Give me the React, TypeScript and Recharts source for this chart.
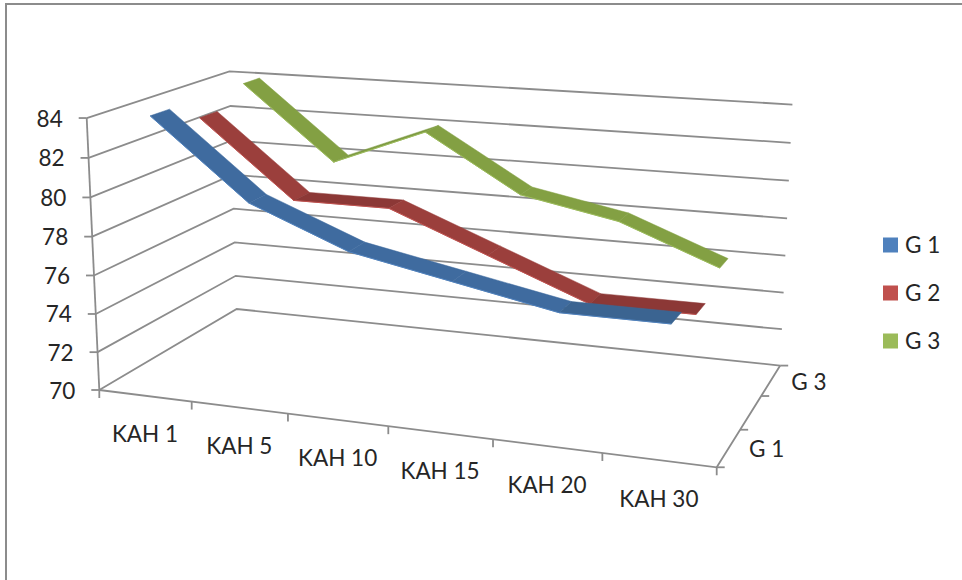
import { Polygon, Scatter, ScatterChart, XAxis, YAxis } from 'recharts';

const categories = ['KAH 1', 'KAH 5', 'KAH 10', 'KAH 15', 'KAH 20', 'KAH 30'];
const seriesNames = ['G 1', 'G 2', 'G 3'];
const depthLabels = ['G 1', 'G 3'];
const valueTicks = [70, 72, 74, 76, 78, 80, 82, 84];

const g1 = [84, 80, 78, 77, 76, 76];
const g2 = [83, 79, 79, 77, 75, 75];
const g3 = [84, 80, 82, 79, 78, 76];

const WIDTH = 962;
const HEIGHT = 580;
const FONT = 'Lato, sans-serif';
const AXIS_COLOR = '#8c8c8c';
const TEXT_COLOR = '#262626';

// [face, shaded face, edge and legend swatch]
const palette = [
  ['#3f6b9f', '#3b6491', '#4f81bd'],
  ['#9b3f3c', '#8c3836', '#c0504d'],
  ['#83a043', '#7d9a41', '#9bbb59'],
];

const RIBBON_HALF = 0.064;

type Pt = { x: number; y: number };

// perspective box: u along categories, v up the value axis, d into the depth
const project = (u: number, v: number, d: number): Pt => {
  const w = 1 - 0.12 * u - 0.03 * v + 0.15 * d;
  return {
    x: (99.3 + 531.4 * u - 15.2 * v + 172.9 * d + 4 * u * v) / w,
    y: (390 + 21.2 * u - 275.5 * v - 34.65 * d + 3.5 * u * v) / w,
  };
};

const vOf = (value: number) => (value - 70) / 14;
const uOf = (index: number) => (index + 0.5) / categories.length;

const Hidden = () => null;

const Segment = ({ points, stroke, width = 1.8 }: { points: Pt[]; stroke?: string; width?: number }) => (
  <Scatter
    data={points}
    shape={Hidden}
    line={{ stroke: stroke ?? AXIS_COLOR, strokeWidth: width }}
    isAnimationActive={false}
  />
);

const Label = (props: any) => (
  <text
    x={props.cx}
    y={props.cy}
    textAnchor={props.payload.anchor ?? 'middle'}
    dominantBaseline="central"
    fontFamily={FONT}
    fontSize={22.5}
    fill={TEXT_COLOR}
  >
    {props.payload.label}
  </text>
);

const Swatch = (props: any) => (
  <rect x={props.cx - 7.5} y={props.cy - 7.5} width={15} height={15} fill={props.payload.color} />
);

const ribbonFaces = (values: number[], seriesIndex: number) => {
  const mid = (seriesIndex + 0.5) / seriesNames.length;
  const front = mid - RIBBON_HALF;
  const back = mid + RIBBON_HALF;
  const [face, shaded, edge] = palette[seriesIndex];
  return values.slice(0, -1).map((value, i) => {
    const next = values[i + 1];
    const frontEdge = [project(uOf(i), vOf(value), front), project(uOf(i + 1), vOf(next), front)];
    const backEdge = [project(uOf(i + 1), vOf(next), back), project(uOf(i), vOf(value), back)];
    return {
      key: `${seriesIndex}-${i}`,
      points: [...frontEdge, ...backEdge],
      fill: next - value >= -0.5 ? shaded : face,
      edge,
    };
  });
};

const Ribbon = (faces: ReturnType<typeof ribbonFaces>) =>
  faces.map(({ key, points, fill, edge }) => (
    <Scatter
      key={key}
      data={points}
      shape={Hidden}
      isAnimationActive={false}
      line={(p: any) => (
        <g>
          <Polygon points={p.points} fill={fill} stroke={fill} strokeWidth={0.5} />
          <line
            x1={p.points[0].x}
            y1={p.points[0].y}
            x2={p.points[1].x}
            y2={p.points[1].y}
            stroke={edge}
            strokeWidth={1}
          />
        </g>
      )}
    />
  ));

const App = () => {
  const catCount = categories.length;
  const ticksOnX = Array.from({ length: catCount + 1 }, (_, i) => i / catCount);

  return (
    <div style={{ position: 'absolute', left: 0, top: 0, width: WIDTH, height: HEIGHT, background: '#fff' }}>
      <div
        style={{
          position: 'absolute',
          left: 5,
          top: 3,
          width: WIDTH - 5,
          height: HEIGHT - 3,
          boxSizing: 'border-box',
          borderTop: '2px solid #8c8c8c',
          borderLeft: '2px solid #8c8c8c',
        }}
      />
      <ScatterChart width={WIDTH} height={HEIGHT} margin={{ top: 0, right: 0, bottom: 0, left: 0 }} style={{ position: 'absolute' }}>
        <XAxis type="number" dataKey="x" domain={[0, WIDTH]} hide />
        <YAxis type="number" dataKey="y" domain={[0, HEIGHT]} reversed hide />

        {/* walls and floor */}
        {valueTicks.map((tick) => (
          <Segment
            key={tick}
            points={[
              project(0, vOf(tick), 0),
              project(0, vOf(tick), 1),
              project(1, vOf(tick), 1),
            ]}
          />
        ))}
        <Segment points={[project(0, 0, 0), project(0, 1, 0)]} />
        <Segment points={[project(0, 0, 0), project(1, 0, 0), project(1, 0, 1)]} />

        {/* tick marks */}
        {valueTicks.map((tick) => (
          <Segment
            key={`vt-${tick}`}
            points={[
              project(0, vOf(tick), 0),
              { x: project(0, vOf(tick), 0).x - 8, y: project(0, vOf(tick), 0).y },
            ]}
          />
        ))}
        {ticksOnX.map((u) => (
          <Segment
            key={`ct-${u}`}
            points={[project(u, 0, 0), { x: project(u, 0, 0).x, y: project(u, 0, 0).y + 8 }]}
          />
        ))}
        {[0, 1 / 3, 2 / 3, 1].map((d) => (
          <Segment
            key={`dt-${d}`}
            points={[project(1, 0, d), { x: project(1, 0, d).x + 8, y: project(1, 0, d).y }]}
          />
        ))}

        {/* back to front so nearer ribbons cover farther ones */}
        {Ribbon(ribbonFaces(g3, 2))}
        {Ribbon(ribbonFaces(g2, 1))}
        {Ribbon(ribbonFaces(g1, 0))}

        <Scatter
          isAnimationActive={false}
          shape={Label}
          data={valueTicks.map((tick) => {
            const p = project(0, vOf(tick), 0);
            return { x: p.x - 24, y: p.y, label: String(tick), anchor: 'end' };
          })}
        />
        <Scatter
          isAnimationActive={false}
          shape={Label}
          data={categories.map((label, i) => {
            const p = project(uOf(i), 0, 0);
            return { x: p.x, y: p.y + 38, label };
          })}
        />
        <Scatter
          isAnimationActive={false}
          shape={Label}
          data={depthLabels.map((label, i) => {
            const p = project(1, 0, i === 0 ? 1 / 6 : 5 / 6);
            return { x: p.x + 38, y: p.y + 1, label };
          })}
        />

        {/* legend */}
        <Scatter
          isAnimationActive={false}
          shape={Swatch}
          data={seriesNames.map((label, i) => ({ x: 890.5, y: 245 + i * 48, label, color: palette[i][2] }))}
        />
        <Scatter
          isAnimationActive={false}
          shape={Label}
          data={seriesNames.map((label, i) => ({ x: 905, y: 244 + i * 48, label, anchor: 'start' }))}
        />
      </ScatterChart>
    </div>
  );
};

export default App;
